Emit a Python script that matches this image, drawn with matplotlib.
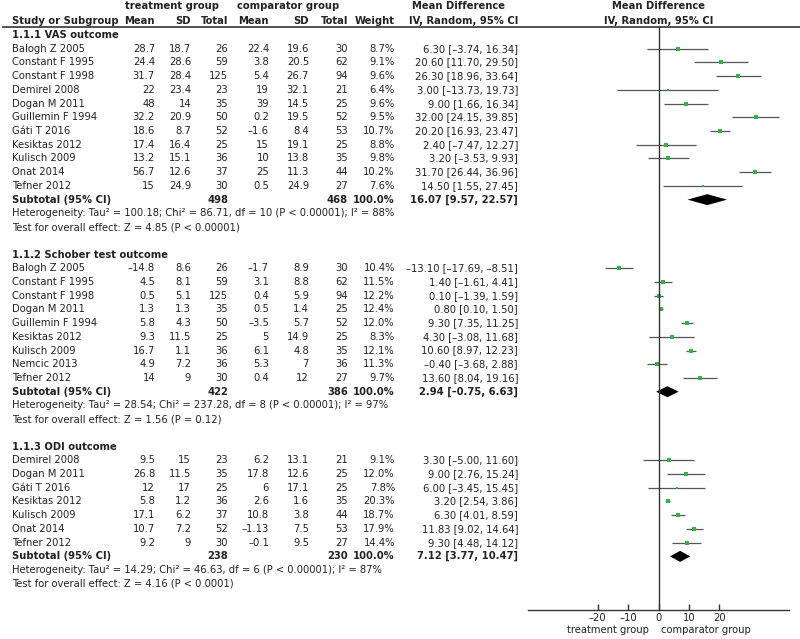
#!/usr/bin/env python3

# Forest plot: treatment group vs comparator group, three outcomes
import matplotlib
matplotlib.use("Agg")
import matplotlib.pyplot as plt
import numpy as np

plt.rcParams['font.family'] = ['DejaVu Sans']

# ---- 1.1.1 VAS outcome ----
vasStudies = ["Balogh Z 2005", "Constant F 1995", "Constant F 1998", "Demirel 2008",
              "Dogan M 2011", "Guillemin F 1994", "Gáti T 2016", "Kesiktas 2012",
              "Kulisch 2009", "Onat 2014", "Tefner 2012"]
vasTrtMean = [28.7, 24.4, 31.7, 22, 48, 32.2, 18.6, 17.4, 13.2, 56.7, 15]
vasTrtSd = [18.7, 28.6, 28.4, 23.4, 14, 20.9, 8.7, 16.4, 15.1, 12.6, 24.9]
vasTrtN = [26, 59, 125, 23, 35, 50, 52, 25, 36, 37, 30]
vasCmpMean = [22.4, 3.8, 5.4, 19, 39, 0.2, -1.6, 15, 10, 25, 0.5]
vasCmpSd = [19.6, 20.5, 26.7, 32.1, 14.5, 19.5, 8.4, 19.1, 13.8, 11.3, 24.9]
vasCmpN = [30, 62, 94, 21, 25, 52, 53, 25, 35, 44, 27]
vasWeight = [8.7, 9.1, 9.6, 6.4, 9.6, 9.5, 10.7, 8.8, 9.8, 10.2, 7.6]
vasMd = [6.30, 20.60, 26.30, 3.00, 9.00, 32.00, 20.20, 2.40, 3.20, 31.70, 14.50]
vasLo = [-3.74, 11.70, 18.96, -13.73, 1.66, 24.15, 16.93, -7.47, -3.53, 26.44, 1.55]
vasHi = [16.34, 29.50, 33.64, 19.73, 16.34, 39.85, 23.47, 12.27, 9.93, 36.96, 27.45]
vasTotal = [498, 468]
vasPooled = [16.07, 9.57, 22.57]
vasHet = "Heterogeneity: Tau² = 100.18; Chi² = 86.71, df = 10 (P < 0.00001); I² = 88%"
vasTest = "Test for overall effect: Z = 4.85 (P < 0.00001)"

# ---- 1.1.2 Schober test outcome ----
schStudies = ["Balogh Z 2005", "Constant F 1995", "Constant F 1998", "Dogan M 2011",
              "Guillemin F 1994", "Kesiktas 2012", "Kulisch 2009", "Nemcic 2013",
              "Tefner 2012"]
schTrtMean = [-14.8, 4.5, 0.5, 1.3, 5.8, 9.3, 16.7, 4.9, 14]
schTrtSd = [8.6, 8.1, 5.1, 1.3, 4.3, 11.5, 1.1, 7.2, 9]
schTrtN = [26, 59, 125, 35, 50, 25, 36, 36, 30]
schCmpMean = [-1.7, 3.1, 0.4, 0.5, -3.5, 5, 6.1, 5.3, 0.4]
schCmpSd = [8.9, 8.8, 5.9, 1.4, 5.7, 14.9, 4.8, 7, 12]
schCmpN = [30, 62, 94, 25, 52, 25, 35, 36, 27]
schWeight = [10.4, 11.5, 12.2, 12.4, 12.0, 8.3, 12.1, 11.3, 9.7]
schMd = [-13.10, 1.40, 0.10, 0.80, 9.30, 4.30, 10.60, -0.40, 13.60]
schLo = [-17.69, -1.61, -1.39, 0.10, 7.35, -3.08, 8.97, -3.68, 8.04]
schHi = [-8.51, 4.41, 1.59, 1.50, 11.25, 11.68, 12.23, 2.88, 19.16]
schTotal = [422, 386]
schPooled = [2.94, -0.75, 6.63]
schHet = "Heterogeneity: Tau² = 28.54; Chi² = 237.28, df = 8 (P < 0.00001); I² = 97%"
schTest = "Test for overall effect: Z = 1.56 (P = 0.12)"

# ---- 1.1.3 ODI outcome ----
odiStudies = ["Demirel 2008", "Dogan M 2011", "Gáti T 2016", "Kesiktas 2012",
              "Kulisch 2009", "Onat 2014", "Tefner 2012"]
odiTrtMean = [9.5, 26.8, 12, 5.8, 17.1, 10.7, 9.2]
odiTrtSd = [15, 11.5, 17, 1.2, 6.2, 7.2, 9]
odiTrtN = [23, 35, 25, 36, 37, 52, 30]
odiCmpMean = [6.2, 17.8, 6, 2.6, 10.8, -1.13, -0.1]
odiCmpSd = [13.1, 12.6, 17.1, 1.6, 3.8, 7.5, 9.5]
odiCmpN = [21, 25, 25, 35, 44, 53, 27]
odiWeight = [9.1, 12.0, 7.8, 20.3, 18.7, 17.9, 14.4]
odiMd = [3.30, 9.00, 6.00, 3.20, 6.30, 11.83, 9.30]
odiLo = [-5.00, 2.76, -3.45, 2.54, 4.01, 9.02, 4.48]
odiHi = [11.60, 15.24, 15.45, 3.86, 8.59, 14.64, 14.12]
odiTotal = [238, 230]
odiPooled = [7.12, 3.77, 10.47]
odiHet = "Heterogeneity: Tau² = 14.29; Chi² = 46.63, df = 6 (P < 0.00001); I² = 87%"
odiTest = "Test for overall effect: Z = 4.16 (P < 0.0001)"

xTicks = [-20, -10, 0, 10, 20]

groups = [
    ("1.1.1 VAS outcome", vasStudies, vasTrtMean, vasTrtSd, vasTrtN, vasCmpMean, vasCmpSd,
     vasCmpN, vasWeight, vasMd, vasLo, vasHi, vasTotal, vasPooled, vasHet, vasTest),
    ("1.1.2 Schober test outcome", schStudies, schTrtMean, schTrtSd, schTrtN, schCmpMean,
     schCmpSd, schCmpN, schWeight, schMd, schLo, schHi, schTotal, schPooled, schHet, schTest),
    ("1.1.3 ODI outcome", odiStudies, odiTrtMean, odiTrtSd, odiTrtN, odiCmpMean, odiCmpSd,
     odiCmpN, odiWeight, odiMd, odiLo, odiHi, odiTotal, odiPooled, odiHet, odiTest),
]

DASH = "\u2013"


def num(v):
    '''Format a number the way the table prints it (short dash as minus).'''
    return f"{v:g}".replace("-", DASH)


def ci(md, lo, hi):
    return f"{md:.2f} [{lo:.2f}, {hi:.2f}]".replace("-", DASH)


txtColor = "#222222"
fs = 7.2
W, H = 800, 639
rowH = 13.72
row0 = 35.0
yTop = -row0 / rowH
yBot = (H - row0) / rowH

fig = plt.figure(figsize=(8.0, 6.39), dpi=100)
tab = fig.add_axes([0, 0, 1, 1])
tab.set_xlim(0, W)
tab.set_ylim(yBot, yTop)
tab.axis("off")

axL, axR = 528, 789
fp = fig.add_axes([axL / W, 0, (axR - axL) / W, 1])
fp.set_xlim(-43, 43)
fp.set_ylim(yBot, yTop)
fp.patch.set_alpha(0)

# column x positions (pixels) and alignment
colX = {"tm": 155, "tsd": 191, "tn": 228, "cm": 269, "csd": 309, "cn": 348, "w": 395, "ci": 518}

# header
hdr = dict(fontsize=fs, fontweight="bold", color=txtColor, va="center")
tab.text(172, -2.1, "treatment group", ha="center", **hdr)
tab.text(288, -2.1, "comparator group", ha="center", **hdr)
tab.text(458, -2.1, "Mean Difference", ha="center", **hdr)
tab.text(12, -1.05, "Study or Subgroup", ha="left", **hdr)
for key, lab in [("tm", "Mean"), ("tsd", "SD"), ("tn", "Total"), ("cm", "Mean"),
                 ("csd", "SD"), ("cn", "Total"), ("w", "Weight"), ("ci", "IV, Random, 95% CI")]:
    tab.text(colX[key], -1.05, lab, ha="right", **hdr)
tab.text(658.5, -2.1, "Mean Difference", ha="center", **hdr)
tab.text(658.5, -1.05, "IV, Random, 95% CI", ha="center", **hdr)
tab.plot([3, W], [-0.6, -0.6], color="#333333", lw=1.2)

body = dict(fontsize=fs, color=txtColor, va="center")
green = "#33b249"
axisRow = 41.9

row = 0
for (title, studies, tm, tsd, tn, cm, csd, cn, w, md, lo, hi, tot, pooled, het, test) in groups:
    tab.text(12, row, title, ha="left", fontweight="bold", **body)
    row += 1
    for i, name in enumerate(studies):
        tab.text(12, row, name, ha="left", **body)
        tab.text(colX["tm"], row, num(tm[i]), ha="right", **body)
        tab.text(colX["tsd"], row, num(tsd[i]), ha="right", **body)
        tab.text(colX["tn"], row, str(tn[i]), ha="right", **body)
        tab.text(colX["cm"], row, num(cm[i]), ha="right", **body)
        tab.text(colX["csd"], row, num(csd[i]), ha="right", **body)
        tab.text(colX["cn"], row, str(cn[i]), ha="right", **body)
        tab.text(colX["w"], row, f"{w[i]:.1f}%", ha="right", **body)
        tab.text(colX["ci"], row, ci(md[i], lo[i], hi[i]), ha="right", **body)
        fp.plot([lo[i], hi[i]], [row, row], color="#555555", lw=0.9, solid_capstyle="butt")
        fp.plot(md[i], row, "s", ms=0.75 * np.sqrt(w[i]), color=green, mec=green, mew=0)
        row += 1
    tab.text(12, row, "Subtotal (95% CI)", ha="left", fontweight="bold", **body)
    tab.text(colX["tn"], row, str(tot[0]), ha="right", fontweight="bold", **body)
    tab.text(colX["cn"], row, str(tot[1]), ha="right", fontweight="bold", **body)
    tab.text(colX["w"], row, "100.0%", ha="right", fontweight="bold", **body)
    tab.text(colX["ci"], row, ci(*pooled), ha="right", fontweight="bold", **body)
    m, l, h = pooled
    fp.fill([l, m, h, m], [row, row - 0.4, row, row + 0.4], color="black", lw=0)
    row += 1
    tab.text(12, row, het, ha="left", **body)
    row += 1
    tab.text(12, row, test, ha="left", **body)
    row += 2

# zero line and axis
fp.plot([0, 0], [-0.6, axisRow], color="#333333", lw=1.0)
for s in ["top", "left", "right"]:
    fp.spines[s].set_visible(False)
fp.spines["bottom"].set_position(("data", axisRow))
fp.spines["bottom"].set_color("#333333")
fp.spines["bottom"].set_linewidth(1.0)
fp.set_yticks([])
fp.set_xticks(xTicks)
fp.set_xticklabels([num(t) for t in xTicks])
fp.tick_params(axis="x", direction="in", length=4, width=1.0, color="#333333",
               labelsize=fs, labelcolor=txtColor, pad=2)
fp.text(-3.2, 43.4, "treatment group", ha="right", **body)
fp.text(0.8, 43.4, "comparator group", ha="left", **body)

fig.savefig("out.png", dpi=100)
